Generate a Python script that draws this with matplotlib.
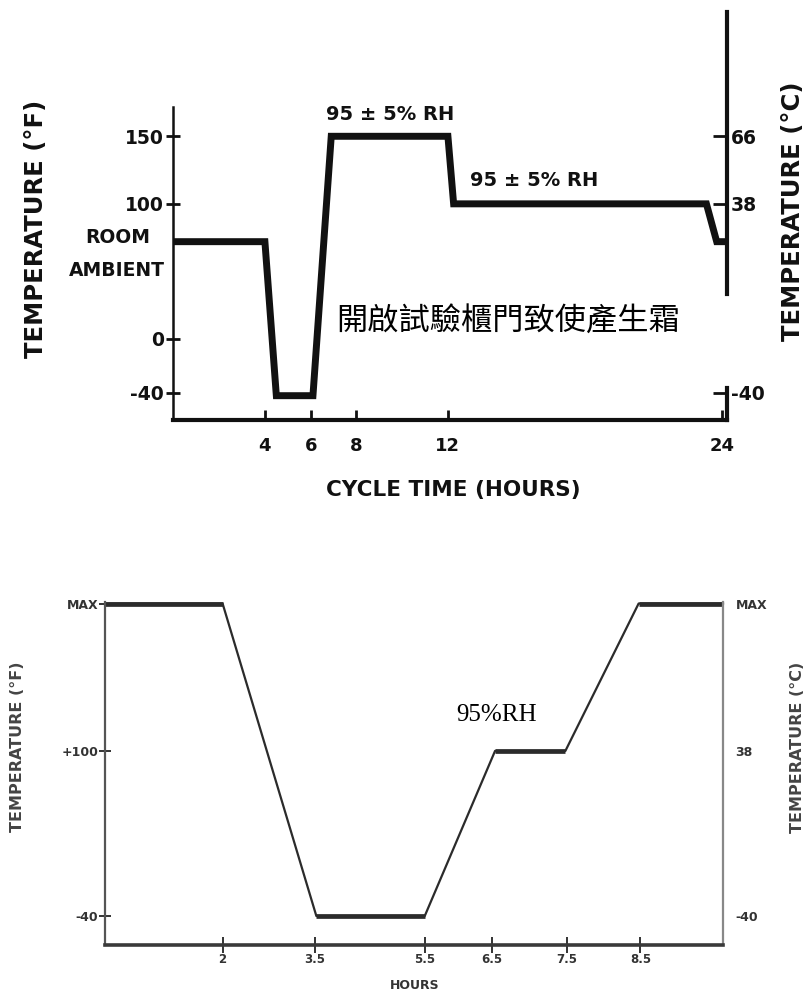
import matplotlib
matplotlib.use('Agg')
import matplotlib.pyplot as plt
from matplotlib import font_manager as fm

# ---------------- data ----------------
# top chart: temperature cycle (deg F) vs cycle time (hours)
top_hours = [0, 4, 4.5, 6.1, 6.9, 12, 12.25, 23.3, 23.75, 24.2]
top_temp_f = [72, 72, -42, -42, 150, 150, 100, 100, 72, 72]
top_xticks = [4, 6, 8, 12, 24]
top_left_ticks = [150, 100, 0, -40]
top_left_labels = ['150', '100', '0', '-40']
top_right_ticks = [150, 100, -40]
top_right_labels = ['66', '38', '-40']
rh_label = '95 ± 5% RH'
cn_label = '開啟試驗櫃門致使產生霜'

# bottom chart: schematic hours axis
bot_pos = [0, 2, 3.6, 5.45, 6.65, 7.85, 9.1, 10.54]
bot_temp_f = [225, 225, -40, -40, 100, 100, 225, 225]
bot_xtick_pos = [2, 3.58, 5.45, 6.6, 7.88, 9.13]
bot_xtick_labels = ['2', '3.5', '5.5', '6.5', '7.5', '8.5']
bot_y_ticks = [225, 100, -40]
bot_left_labels = ['MAX', '+100', '-40']
bot_right_labels = ['MAX', '38', '-40']

# ---------------- fonts ----------------
names = {f.name for f in fm.fontManager.ttflist}
sans = 'DejaVu Sans'
cjk = 'Noto Sans CJK TC' if 'Noto Sans CJK TC' in names else 'Noto Sans CJK SC'
serif = 'Liberation Serif' if 'Liberation Serif' in names else 'DejaVu Serif'

W, H = 806, 1005
fig = plt.figure(figsize=(W / 100, H / 100), dpi=100)
ink = '#111111'

def fx(px):
    return px / W

def fy(py):
    return 1 - py / H

# ================= TOP CHART =================
ax = fig.add_axes([fx(173.4), fy(420), fx(727 - 173.4), (420 - 12) / H])
ax.set_xlim(0, 24.2)
ax.set_ylim(-60, 242)
ax.plot(top_hours, top_temp_f, color=ink, lw=5, solid_joinstyle='miter',
        solid_capstyle='butt', clip_on=False)
ax.spines['top'].set_visible(False)
ax.spines['left'].set_bounds(-60, 172)
ax.spines['left'].set_linewidth(1.8)
ax.spines['bottom'].set_linewidth(3)
ax.spines['right'].set_linewidth(3)
ax.spines['right'].set_bounds(33, 242)
for s in ['left', 'bottom', 'right']:
    ax.spines[s].set_color(ink)
# lower piece of right axis
ax.plot([24.2, 24.2], [-60, -36], color=ink, lw=3, clip_on=False)

ax.set_xticks(top_xticks)
ax.set_xticklabels([str(t) for t in top_xticks])
ax.set_yticks(top_left_ticks)
ax.set_yticklabels(top_left_labels)
ax.tick_params(axis='x', direction='in', length=7, width=2, pad=12,
               labelsize=13, colors=ink)
ax.tick_params(axis='y', direction='inout', length=10, width=2, pad=2,
               labelsize=13.5, colors=ink)
for lab in ax.get_xticklabels() + ax.get_yticklabels():
    lab.set_fontweight('bold')
    lab.set_family(sans)

axr = ax.twinx()
axr.set_ylim(ax.get_ylim())
for s in ['top', 'left', 'bottom', 'right']:
    axr.spines[s].set_visible(False)
axr.set_yticks(top_right_ticks)
axr.set_yticklabels(top_right_labels)
axr.tick_params(axis='y', direction='in', length=10, width=2, pad=3,
                labelsize=13.5, colors=ink)
for lab in axr.get_yticklabels():
    lab.set_fontweight('bold')

ax.text(-2.42, 75, 'ROOM', ha='center', va='center', fontsize=13.5,
        fontweight='bold', color=ink, clip_on=False)
ax.text(-2.45, 51, 'AMBIENT', ha='center', va='center', fontsize=13.5,
        fontweight='bold', color=ink, clip_on=False)
ax.text(9.46, 166, rh_label, ha='center', va='center', fontsize=14,
        fontweight='bold', color=ink)
ax.text(15.75, 117, rh_label, ha='center', va='center', fontsize=14,
        fontweight='bold', color=ink)
ax.text(14.65, 12.6, cn_label, ha='center', va='center', fontsize=22.5,
        family=[cjk, 'DejaVu Sans'], color='black')

fig.text(fx(36), fy(229), 'TEMPERATURE (°F)', rotation=90, ha='center',
         va='center', fontsize=17.5, fontweight='bold', color=ink)
fig.text(fx(793), fy(211), 'TEMPERATURE (°C)', rotation=90, ha='center',
         va='center', fontsize=17.5, fontweight='bold', color=ink)
fig.text(fx(453), fy(490), 'CYCLE TIME (HOURS)', ha='center', va='center',
         fontsize=15.5, fontweight='bold', color=ink)

# ================= BOTTOM CHART =================
bx = fig.add_axes([fx(105.4), fy(945), fx(723 - 105.4), (945 - 600) / H])
bx.set_xlim(0, 10.54)
bx.set_ylim(-64.6, 228)
lc = '#2b2b2b'
bx.plot(bot_pos, bot_temp_f, color=lc, lw=1.6, clip_on=False)
# thicker flat segments
for i in range(len(bot_pos) - 1):
    if bot_temp_f[i] == bot_temp_f[i + 1]:
        bx.plot(bot_pos[i:i + 2], bot_temp_f[i:i + 2], color=lc, lw=3.4,
                solid_capstyle='butt', clip_on=False)
bx.spines['top'].set_visible(False)
bx.spines['left'].set_color('#555555')
bx.spines['left'].set_linewidth(1.6)
bx.spines['right'].set_color('#888888')
bx.spines['right'].set_linewidth(1.6)
bx.spines['bottom'].set_color('#3a3a3a')
bx.spines['bottom'].set_linewidth(2.6)
bx.spines['left'].set_bounds(-64.6, 226)
bx.spines['right'].set_bounds(-64.6, 226)

bx.set_xticks(bot_xtick_pos)
bx.set_xticklabels(bot_xtick_labels)
bx.set_yticks(bot_y_ticks)
bx.set_yticklabels(bot_left_labels)
bx.tick_params(axis='x', direction='inout', length=12, width=1.4, pad=0,
               labelsize=8.5, colors='#333333')
bx.tick_params(axis='y', direction='inout', length=8, width=1.4, pad=1,
               labelsize=9, colors='#333333')
for lab in bx.get_xticklabels() + bx.get_yticklabels():
    lab.set_fontweight('bold')
# MAX tick not drawn on left
bx.yaxis.get_major_ticks()[0].tick1line.set_visible(False)

bxr = bx.twinx()
bxr.set_ylim(bx.get_ylim())
for s in ['top', 'left', 'bottom', 'right']:
    bxr.spines[s].set_visible(False)
bxr.set_yticks(bot_y_ticks)
bxr.set_yticklabels(bot_right_labels)
bxr.tick_params(axis='y', direction='in', length=0, width=1.4, pad=9,
                labelsize=9, colors='#333333')
for lab in bxr.get_yticklabels():
    lab.set_fontweight('bold')

bx.text(6.68, 130.5, '95%RH', ha='center', va='center', fontsize=18,
        family=serif, color='black')

fig.text(fx(18), fy(747), 'TEMPERATURE (°F)', rotation=90, ha='center',
         va='center', fontsize=11.5, fontweight='bold', color='#444444')
fig.text(fx(798), fy(747), 'TEMPERATURE (°C)', rotation=90, ha='center',
         va='center', fontsize=11.5, fontweight='bold', color='#444444')
fig.text(fx(415), fy(985), 'HOURS', ha='center', va='center',
         fontsize=9, fontweight='bold', color='#333333')

fig.savefig('out.png', dpi=100)
